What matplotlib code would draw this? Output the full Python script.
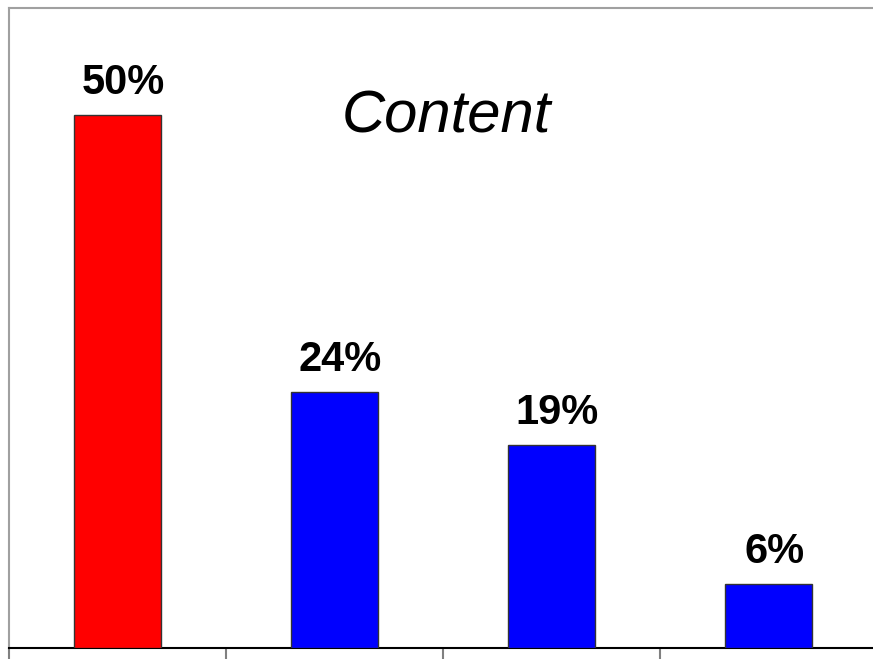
import matplotlib.pyplot as plt

plt.rcParams['font.family'] = ['Liberation Sans', 'DejaVu Sans']

categories = ['A', 'B', 'C', 'D']
values = [50, 24, 19, 6]
labels = ['50%', '24%', '19%', '6%']
colors = ['#ff0000', '#0000ff', '#0000ff', '#0000ff']

W, H = 873, 659
fig = plt.figure(figsize=(W / 100, H / 100), dpi=100)
# axes runs a little past the right edge of the figure, as in the original
ax = fig.add_axes([9 / W, 1 - 648 / H, 868 / W, 640 / H])

x = range(len(categories))
ax.bar(x, values, width=0.4, color=colors, edgecolor='#333333', linewidth=1, zorder=3)

for xi, v, lab in zip(x, values, labels):
    ax.annotate(lab, (xi, v), xytext=(6, 12), textcoords='offset pixels',
                ha='center', va='bottom', fontsize=30, fontweight='bold')

ax.text(446 / W, 1 - 117 / H, 'Content', transform=fig.transFigure,
        ha='center', va='center', fontsize=43, fontstyle='italic')

ax.set_xlim(-0.5, len(categories) - 0.5)
ax.set_ylim(0, 60)
ax.set_xticks([i - 0.5 for i in range(len(categories) + 1)])
ax.set_xticklabels([])
ax.set_yticks([])
ax.tick_params(axis='x', direction='out', length=11, width=1.5, color='#808080')

for side in ['left', 'top']:
    ax.spines[side].set_color('#a0a0a0')
    ax.spines[side].set_linewidth(1.5)
ax.spines['right'].set_visible(False)
ax.spines['bottom'].set_color('black')
ax.spines['bottom'].set_linewidth(1.5)

plt.savefig('out.png', dpi=100)
